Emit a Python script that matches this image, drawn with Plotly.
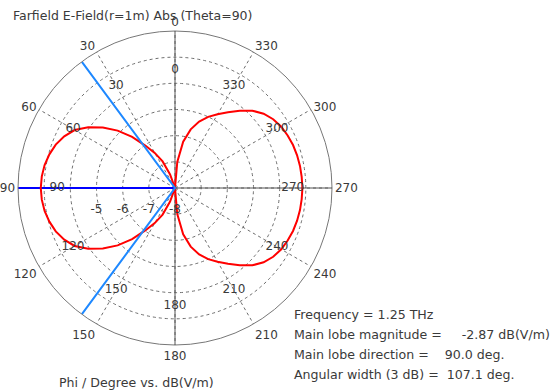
import numpy as np
import plotly.graph_objects as go

# Farfield cut at Theta = 90 deg: Phi (deg) vs. |E| in dB(V/m)
phi_deg = list(range(0, 360, 5))
field_db = [
    # 0 .. 90
    -14.0, -11.4, -9.6, -8.3, -7.45, -6.88, -6.45, -6.02, -5.45, -4.90,
    -4.40, -3.95, -3.57, -3.33, -3.15, -3.03, -2.94, -2.89, -2.87,
    # 95 .. 175
    -2.89, -2.94, -3.03, -3.15, -3.33, -3.57, -3.95, -4.40, -4.90, -5.45,
    -6.02, -6.45, -6.88, -7.45, -8.3, -9.6, -11.4,
    # 180 .. 265
    -13.5, -7.00, -6.20, -5.68, -5.30, -5.00, -4.75, -4.47, -4.15, -3.82,
    -3.58, -3.42, -3.31, -3.25, -3.20, -3.17, -3.15, -3.14,
    # 270 .. 355
    -3.13, -3.14, -3.15, -3.17, -3.20, -3.25, -3.31, -3.42, -3.58, -3.82,
    -4.15, -4.47, -4.75, -5.00, -5.30, -5.68, -6.20, -7.00,
]

# Summary values of the cut
frequency_thz = 1.25
main_lobe_db = -2.87
main_lobe_dir = 90.0
beam_width_3db = 107.1

# Plot scale
r_min, r_max = -8.0, -2.0
r_ticks = [-8, -7, -6, -5, -4, -3, -2]
r_label_vals = [-8, -7, -6, -5]
angle_ticks = list(range(0, 360, 30))
angle_tick_text = [str(a) for a in angle_ticks]
inner_label_r = -3.5

TXT = "#3a3a3a"
GRID = "#6e6e6e"
FONT = "DejaVu Sans"

r_plot = np.maximum(np.array(field_db), r_min)
phi_closed = phi_deg + [phi_deg[0]]
r_closed = list(r_plot) + [r_plot[0]]

fig = go.Figure()

# Solid cross through the centre (0-180 and 90-270)
fig.add_trace(go.Scatterpolar(
    r=[r_max, r_min, r_max, None, r_max, r_min, r_max],
    theta=[0, 0, 180, None, 90, 90, 270],
    mode="lines", line=dict(color="#555555", width=1),
    hoverinfo="skip", showlegend=False,
))

# Main lobe direction marker
fig.add_trace(go.Scatterpolar(
    r=[r_min, r_max], theta=[main_lobe_dir, main_lobe_dir],
    mode="lines", line=dict(color="#0000ff", width=2),
    hoverinfo="skip", showlegend=False,
))

# Pattern
fig.add_trace(go.Scatterpolar(
    r=r_closed, theta=phi_closed, mode="lines",
    line=dict(color="#ff0000", width=2),
    showlegend=False,
))

# 3 dB beam-width limits
half = beam_width_3db / 2.0
fig.add_trace(go.Scatterpolar(
    r=[r_max, r_min, r_max],
    theta=[main_lobe_dir - half, main_lobe_dir - half, main_lobe_dir + half],
    mode="lines", line=dict(color="#1e88ff", width=2),
    hoverinfo="skip", showlegend=False,
))

# Inner ring of Phi labels
fig.add_trace(go.Scatterpolar(
    r=[inner_label_r] * len(angle_ticks), theta=angle_ticks,
    text=angle_tick_text, mode="text",
    textfont=dict(family=FONT, size=12, color=TXT),
    hoverinfo="skip", showlegend=False,
))

# dB labels below the 90 deg axis
fig.add_trace(go.Scatterpolar(
    r=r_label_vals, theta=[90] * len(r_label_vals),
    text=["<br>" + str(v) for v in r_label_vals], mode="text",
    textposition="bottom center",
    textfont=dict(family=FONT, size=12, color=TXT),
    hoverinfo="skip", showlegend=False,
))

R = 157
cx, cy = 175, 392 - 188
W, H = 554, 392

fig.update_layout(
    width=W, height=H,
    margin=dict(l=0, r=0, t=0, b=0),
    paper_bgcolor="white",
    font=dict(family=FONT, size=12, color=TXT),
    title=dict(
        text="Farfield E-Field(r=1m) Abs (Theta=90)",
        x=13 / W, xanchor="left", y=1 - 16 / H, yanchor="middle",
        font=dict(family=FONT, size=12.5, color=TXT),
    ),
    polar=dict(
        domain=dict(x=[(cx - R) / W, (cx + R) / W], y=[(cy - R) / H, (cy + R) / H]),
        bgcolor="white",
        radialaxis=dict(
            range=[r_min, r_max], tickvals=r_ticks, showticklabels=False,
            angle=180, showline=False, ticks="",
            gridcolor=GRID, griddash="dot", gridwidth=1,
        ),
        angularaxis=dict(
            rotation=90, direction="counterclockwise",
            tickvals=angle_ticks, ticktext=angle_tick_text,
            showline=True, linecolor="#777777", linewidth=1,
            gridcolor=GRID, griddash="dot", gridwidth=1, ticks="",
            tickfont=dict(family=FONT, size=12, color=TXT),
        ),
    ),
)

info_lines = [
    f"Frequency = {frequency_thz:.2f} THz",
    f"Main lobe magnitude =     {main_lobe_db:.2f} dB(V/m)",
    f"Main lobe direction =    {main_lobe_dir:.1f} deg.",
    f"Angular width (3 dB) =  {beam_width_3db:.1f} deg.",
]
for i, line in enumerate(info_lines):
    fig.add_annotation(
        text=line.replace(" ", "&nbsp;"),
        xref="paper", yref="paper", x=292 / W, xanchor="left",
        y=1 - (314 + 20.3 * i) / H, yanchor="middle",
        showarrow=False, bgcolor="white", borderpad=1,
        font=dict(family=FONT, size=12.6, color=TXT),
    )

fig.add_annotation(
    text="Phi / Degree vs. dB(V/m)",
    xref="paper", yref="paper", x=136 / W, xanchor="center",
    y=1 - 382 / H, yanchor="middle", showarrow=False,
    font=dict(family=FONT, size=12.6, color=TXT),
)

fig.write_html("out.html")
